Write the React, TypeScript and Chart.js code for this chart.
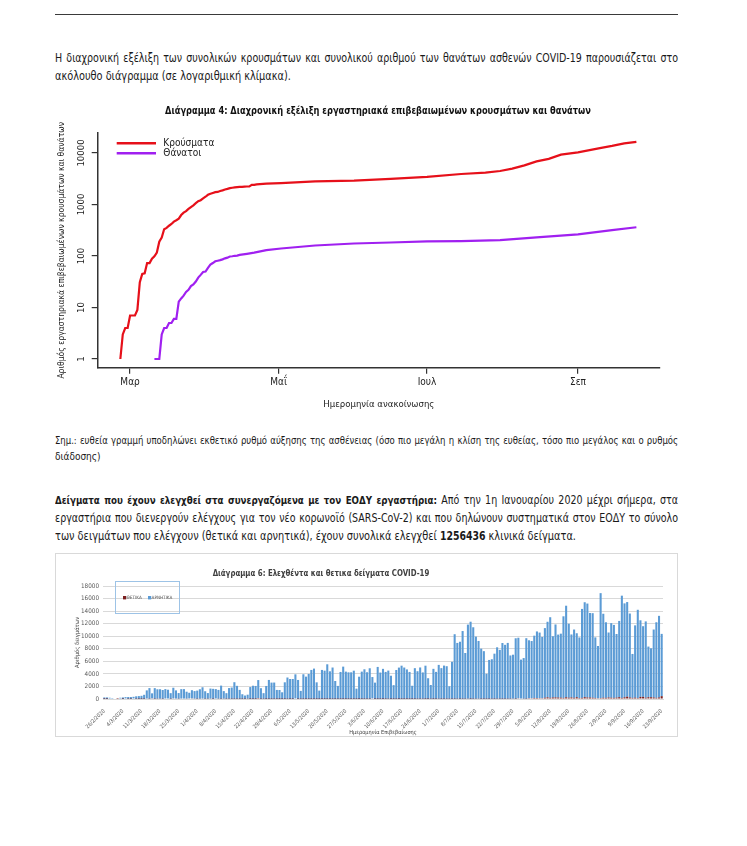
import React, { useEffect, useRef } from "react";
import { Chart, registerables } from "chart.js";
Chart.register(...registerables);

const NARROW = "'Liberation Sans Narrow', 'DejaVu Sans Condensed', 'Arial Narrow', sans-serif";

// ---------- Diagram 4: cumulative cases & deaths (log scale), x = days since 26/2/2020 ----------
const caseDays = [0,1,2,3,4,5,6,7,8,9,10,11,12,13,14,15,16,17,18,19,20,21,22,23,24,25,26,27,28,29,30,31,32,33,34,35,36,37,38,39,40,41,42,43,44,45,46,47,48,49,50,51,52,53,54,55,56,60,66,80,96,111,126,140,150,156,161,166,171,176,181,188,197,202,207,212];
const caseTotals = [1,3,4,4,7,7,7,9,31,45,46,73,73,89,99,117,190,228,331,352,387,418,464,495,530,624,695,743,821,892,966,1061,1156,1212,1314,1415,1544,1613,1673,1735,1755,1832,1884,1955,2011,2081,2114,2145,2170,2192,2207,2224,2235,2245,2401,2408,2463,2534,2591,2819,2918,3148,3432,3910,4166,4477,4973,5749,6858,7684,9280,10317,12452,13730,15400,16500];
const deathDays = [14,15,16,17,18,19,20,21,22,23,24,25,26,27,28,29,30,31,32,33,34,35,36,37,38,39,40,41,42,43,44,45,46,47,48,49,52,55,60,66,80,96,111,126,140,156,171,188,202,212];
const deathTotals = [1,1,1,3,4,4,5,5,6,6,13,15,17,20,22,26,28,32,38,43,49,50,59,68,73,79,81,83,86,90,93,98,99,101,102,105,110,116,130,140,160,175,183,192,194,203,230,262,317,362];
const monthTickDays = [4, 65, 126, 188];
const monthTickLabels = ["Μαρ", "Μαΐ", "Ιουλ", "Σεπ"];
const logTicks = [1, 10, 100, 1000, 10000];
const logTickLabels = ["1", "10", "100", "1000", "10000"];

// ---------- Diagram 6: daily samples from 26/2/2020 to 23/9/2020 ----------
const sampleStart = [2020, 1, 26]; // 26/2/2020
const sampleDayCount = 211;
const positiveSamples = [
  1,2,0,0,0,4,0,
  2,0,22,14,0,28,16,
  10,18,73,38,103,30,49,
  56,31,77,78,31,94,71,
  48,71,74,60,95,102,61,
  35,54,68,37,44,62,19,
  77,49,32,56,30,40,25,
  24,27,20,18,21,46,5,
  15,9,156,22,30,8,15,
  12,21,15,2,10,10,23,
  10,9,0,13,20,12,12,
  10,8,14,6,8,10,4,
  8,12,14,8,17,9,6,
  9,8,11,10,9,2,11,
  15,23,17,97,8,9,11,
  2,15,27,7,8,16,3,
  8,12,12,11,9,12,25,
  24,30,7,10,30,5,18,
  33,15,22,25,29,23,19,
  32,22,25,30,52,10,28,
  40,46,22,21,22,21,35,
  20,37,30,21,29,36,35,
  57,25,110,74,50,34,124,
  113,168,153,131,126,203,262,
  188,241,254,230,217,173,269,
  208,250,187,284,157,179,293,
  243,233,202,168,116,152,209,
  183,243,205,181,224,286,169,
  273,372,246,177,221,152,338,
  346,211,291,279,246,186,245,
  453
];
const negativeSamples = [
  250,250,200,150,0,0,200,250,300,300,300,350,400,450,500,650,
  1300,1700,800,1700,1500,1500,1400,1500,1400,900,1700,1300,900,1500,1500,1100,900,1300,1200,1300,1500,1800,1200,900,1600,1600,1500,1400,2100,1200,900,1700,1800,
  2650,2070,1430,740,530,640,1900,2100,2070,2860,1700,900,2070,3020,2600,2600,1430,1430,1060,2650,3400,3180,3180,3930,3020,1270,3930,3550,3980,4620,4830,2650,1330,4620,4510,5520,4400,5000,2860,2070,4300,5150,4350,4240,4240,4500,1640,3550,4350,4720,4240,4880,3400,
  2600,5100,4200,4800,4300,4500,3700,2200,4600,5000,5300,5000,4700,4300,2100,4900,4400,5000,4200,5300,3300,2200,4800,4300,5400,4900,5300,5200,2000,5900,
  10300,8900,9100,10800,7300,11800,12300,11400,9900,9200,8000,7600,4000,6200,6300,7200,8200,7800,8900,8600,8900,6900,7000,9650,9650,6200,
  6470,9650,9230,9120,9920,10610,10450,9760,11090,12040,12840,9760,11620,10030,10190,13000,14590,11780,10030,10880,10190,9650,14170,15120,14960,13470,13470,9650,8330,16710,13370,12040,10350,11880,11620,10130,12150,16290,14960,15070,13370,7000,11510,14060,12200,11250,12150,8060,7800,10820,12040,13000,9920
];

// ---------- page texts ----------
const p1Lines = [
  "Η διαχρονική εξέλιξη των συνολικών κρουσμάτων και συνολικού αριθμού των θανάτων ασθενών COVID-19 παρουσιάζεται στο",
  "ακόλουθο διάγραμμα (σε λογαριθμική κλίμακα).",
];
const noteLines = [
  "Σημ.: ευθεία γραμμή υποδηλώνει εκθετικό ρυθμό αύξησης της ασθένειας (όσο πιο μεγάλη η κλίση της ευθείας, τόσο πιο μεγάλος και ο ρυθμός",
  "διάδοσης)",
];

function dayLabels(): string[] {
  const out: string[] = [];
  const base = Date.UTC(sampleStart[0], sampleStart[1], sampleStart[2]);
  for (let i = 0; i < sampleDayCount; i++) {
    const d = new Date(base + i * 86400000);
    out.push(`${d.getUTCDate()}/${d.getUTCMonth() + 1}/${d.getUTCFullYear()}`);
  }
  return out;
}

function LogChart() {
  const ref = useRef<HTMLCanvasElement>(null);
  useEffect(() => {
    const font10 = { family: NARROW, size: 10 };
    const rotatedY = {
      id: "rotatedY",
      afterDraw(chart: any) {
        const s = chart.scales.y;
        const ctx = chart.ctx;
        ctx.save();
        ctx.font = `9.5px ${NARROW}`;
        ctx.fillStyle = "#222";
        ctx.textAlign = "center";
        ctx.textBaseline = "middle";
        logTicks.forEach((v, i) => {
          const py = s.getPixelForValue(v);
          ctx.save();
          ctx.translate(chart.chartArea.left - 16, py);
          ctx.rotate(-Math.PI / 2);
          ctx.fillText(logTickLabels[i], 0, 0);
          ctx.restore();
        });
        ctx.restore();
      },
    };
    const lineLegend = {
      id: "lineLegend",
      afterDraw(chart: any) {
        const ctx = chart.ctx;
        const a = chart.chartArea;
        ctx.save();
        chart.data.datasets.forEach((ds: any, i: number) => {
          const y = a.top + 10.3 + i * 10;
          ctx.strokeStyle = ds.borderColor;
          ctx.lineWidth = 2.6;
          ctx.beginPath();
          ctx.moveTo(a.left + 19, y);
          ctx.lineTo(a.left + 58.3, y);
          ctx.stroke();
          ctx.fillStyle = "#222";
          ctx.font = `10px ${NARROW}`;
          ctx.textBaseline = "middle";
          ctx.textAlign = "left";
          ctx.fillText(ds.label, a.left + 65.6, y);
        });
        ctx.restore();
      },
    };
    const chart = new Chart(ref.current as HTMLCanvasElement, {
      type: "line",
      data: {
        datasets: [
          {
            label: "Κρούσματα",
            data: caseDays.map((d, i) => ({ x: d, y: caseTotals[i] })),
            borderColor: "#e6101a",
            borderWidth: 2.2,
            pointRadius: 0,
            tension: 0,
          },
          {
            label: "Θάνατοι",
            data: deathDays.map((d, i) => ({ x: d, y: deathTotals[i] })),
            borderColor: "#a020f0",
            borderWidth: 2.2,
            pointRadius: 0,
            tension: 0,
          },
        ],
      },
      options: {
        responsive: false,
        animation: false,
        devicePixelRatio: 1,
        layout: { padding: { left: 0, right: 20, top: 33, bottom: 0 } },
        plugins: { legend: { display: false }, tooltip: { enabled: false } },
        scales: {
          x: {
            type: "linear",
            min: -9.3,
            max: 221.7,
            afterBuildTicks: (s: any) => {
              s.ticks = monthTickDays.map((v) => ({ value: v }));
            },
            ticks: {
              autoSkip: false,
              maxRotation: 0,
              font: font10,
              color: "#222",
              padding: 3,
              callback: (v: any) => {
                const k = monthTickDays.indexOf(Number(v));
                return k >= 0 ? monthTickLabels[k] : "";
              },
            },
            grid: { drawOnChartArea: false, drawTicks: true, tickLength: 6, color: "#333", lineWidth: 1.2 },
            border: { display: true, color: "#333", width: 1.5 },
            title: {
              display: true,
              text: "Ημερομηνία ανακοίνωσης",
              font: { family: NARROW, size: 9.5 },
              color: "#222",
              padding: { top: 0, bottom: 10 },
            },
            afterFit: (s: any) => {
              s.height = 52.3;
            },
          },
          y: {
            type: "logarithmic",
            min: 0.678,
            max: 24450,
            afterBuildTicks: (s: any) => {
              s.ticks = logTicks.map((v) => ({ value: v }));
            },
            ticks: { display: false },
            grid: { drawOnChartArea: false, drawTicks: true, tickLength: 6, color: "#333", lineWidth: 1.2 },
            border: { display: true, color: "#333", width: 1.5 },
            title: {
              display: true,
              text: "Αριθμός εργαστηριακά επιβεβαιωμένων κρουσμάτων και θανάτων",
              font: { family: NARROW, size: 8.5 },
              color: "#222",
              padding: { top: 16.5, bottom: 0 },
            },
            afterFit: (s: any) => {
              s.width = 57.7;
            },
          },
        },
      } as any,
      plugins: [rotatedY, lineLegend],
    });
    return () => chart.destroy();
  }, []);
  return (
    <canvas
      ref={ref}
      width={640}
      height={320}
      style={{ position: "absolute", left: 40, top: 100, width: 640, height: 320 }}
    />
  );
}

function BarChart() {
  const ref = useRef<HTMLCanvasElement>(null);
  useEffect(() => {
    const labels = dayLabels();
    const boxLegend = {
      id: "boxLegend",
      afterDraw(chart: any) {
        const ctx = chart.ctx;
        ctx.save();
        ctx.strokeStyle = "#9dc3e6";
        ctx.lineWidth = 1;
        ctx.strokeRect(59.5, 27.5, 64, 32);
        const y = 43.7;
        const xs = [67, 92];
        chart.data.datasets.forEach((ds: any, i: number) => {
          ctx.fillStyle = ds.backgroundColor;
          ctx.fillRect(xs[i], y - 1.7, 3.2, 3.4);
          ctx.fillStyle = "#595959";
          ctx.font = `4.6px ${NARROW}`;
          ctx.textBaseline = "middle";
          ctx.textAlign = "left";
          ctx.fillText(ds.label, xs[i] + 3.6, y);
        });
        ctx.restore();
      },
    };
    const chart = new Chart(ref.current as HTMLCanvasElement, {
      type: "bar",
      data: {
        labels,
        datasets: [
          { label: "ΘΕΤΙΚΑ", data: positiveSamples, backgroundColor: "#7b1f1f", stack: "s" },
          { label: "ΑΡΝΗΤΙΚΑ", data: negativeSamples, backgroundColor: "#5b9bd5", stack: "s" },
        ],
      },
      options: {
        responsive: false,
        animation: false,
        devicePixelRatio: 1,
        layout: { padding: { left: 0, right: 14, top: 32, bottom: 0 } },
        datasets: { bar: { barPercentage: 0.78, categoryPercentage: 1 } },
        plugins: { legend: { display: false }, tooltip: { enabled: false } },
        scales: {
          x: {
            stacked: true,
            grid: { display: false },
            border: { display: true, color: "#d9d9d9" },
            ticks: {
              autoSkip: false,
              minRotation: 45,
              maxRotation: 45,
              font: { family: NARROW, size: 5.4 },
              color: "#595959",
              padding: 1,
              callback: (v: any, i: number) => (i % 7 === 0 ? labels[i] : null),
            },
            title: {
              display: true,
              text: "Ημερομηνία Επιβεβαίωσης",
              font: { family: NARROW, size: 5.6 },
              color: "#404040",
              padding: { top: 0, bottom: 0 },
            },
            afterFit: (s: any) => {
              s.height = 37;
            },
          },
          y: {
            stacked: true,
            min: 0,
            max: 18000,
            ticks: {
              stepSize: 2000,
              font: { family: NARROW, size: 6.3 },
              color: "#595959",
              padding: 4,
              callback: (v: any) => String(v),
            },
            grid: { color: "#d9d9d9", drawTicks: false },
            border: { display: false },
            title: {
              display: true,
              text: "Αριθμός δειγμάτων",
              font: { family: NARROW, size: 5.8 },
              color: "#404040",
              padding: { top: 18.4, bottom: 0 },
            },
            afterFit: (s: any) => {
              s.width = 47;
            },
          },
        },
      } as any,
      plugins: [boxLegend],
    });
    return () => chart.destroy();
  }, []);
  return (
    <canvas
      ref={ref}
      width={621}
      height={182}
      style={{ position: "absolute", left: 56, top: 554, width: 621, height: 182 }}
    />
  );
}

function TextLine(props: { top: number; size: number; lh: number; justify: boolean; k: number; children: any }) {
  return (
    <div
      style={{
        position: "absolute",
        left: 55,
        width: 623 / props.k,
        top: props.top,
        height: props.lh,
        lineHeight: props.lh + "px",
        fontSize: props.size,
        fontFamily: NARROW,
        color: "#1a1a1a",
        textAlign: "justify",
        textAlignLast: props.justify ? "justify" : "left",
        whiteSpace: "nowrap",
        transform: `scaleX(${props.k})`,
        transformOrigin: "0 0",
      } as any}
    >
      {props.children}
    </div>
  );
}

export default function App() {
  return (
    <div style={{ position: "absolute", left: 0, top: 0, width: 747, height: 846, background: "#fff", overflow: "hidden" }}>
      <div style={{ position: "absolute", left: 55, top: 14, width: 623, borderTop: "1.5px solid #3a3a3a" }} />
      <TextLine top={49} size={12} lh={18} justify={true} k={0.88}>{p1Lines[0]}</TextLine>
      <TextLine top={67} size={12} lh={18} justify={false} k={0.905}>{p1Lines[1]}</TextLine>
      <LogChart />
      <div
        style={{
          position: "absolute",
          left: 128,
          width: 500,
          top: 103,
          lineHeight: "14px",
          fontSize: 10.5,
          fontWeight: "bold",
          fontFamily: NARROW,
          textAlign: "center",
          color: "#111",
          whiteSpace: "nowrap",
          transform: "scaleX(0.876)",
          transformOrigin: "50% 50%",
        }}
      >
        Διάγραμμα 4: Διαχρονική εξέλιξη εργαστηριακά επιβεβαιωμένων κρουσμάτων και θανάτων
      </div>
      <TextLine top={432} size={10.5} lh={16} justify={true} k={0.9}>{noteLines[0]}</TextLine>
      <TextLine top={448} size={10.5} lh={16} justify={false} k={0.95}>{noteLines[1]}</TextLine>
      <TextLine top={491} size={12} lh={18} justify={true} k={0.88}>
        <b style={{ fontSize: 11 }}>Δείγματα που έχουν ελεγχθεί στα συνεργαζόμενα με τον ΕΟΔΥ εργαστήρια:</b> Από την 1η Ιανουαρίου 2020 μέχρι σήμερα, στα
      </TextLine>
      <TextLine top={509} size={12} lh={18} justify={true} k={0.88}>
        εργαστήρια που διενεργούν ελέγχους για τον νέο κορωνοϊό (SARS-CoV-2) και που δηλώνουν συστηματικά στον ΕΟΔΥ το σύνολο
      </TextLine>
      <TextLine top={527} size={12} lh={18} justify={false} k={0.905}>
        των δειγμάτων που ελέγχουν (θετικά και αρνητικά), έχουν συνολικά ελεγχθεί <b style={{ fontSize: 11.5 }}>1256436</b> κλινικά δείγματα.
      </TextLine>
      <div style={{ position: "absolute", left: 55, top: 553, width: 621, height: 182, border: "1px solid #d9d9d9" }} />
      <BarChart />
      <div
        style={{
          position: "absolute",
          left: 171,
          width: 300,
          top: 566,
          lineHeight: "13px",
          fontSize: 9.5,
          fontWeight: "bold",
          fontFamily: NARROW,
          textAlign: "center",
          color: "#404040",
          whiteSpace: "nowrap",
          transform: "scaleX(0.82)",
          transformOrigin: "50% 50%",
        }}
      >
        Διάγραμμα 6: Ελεχθέντα και θετικα δείγματα COVID-19
      </div>
    </div>
  );
}
